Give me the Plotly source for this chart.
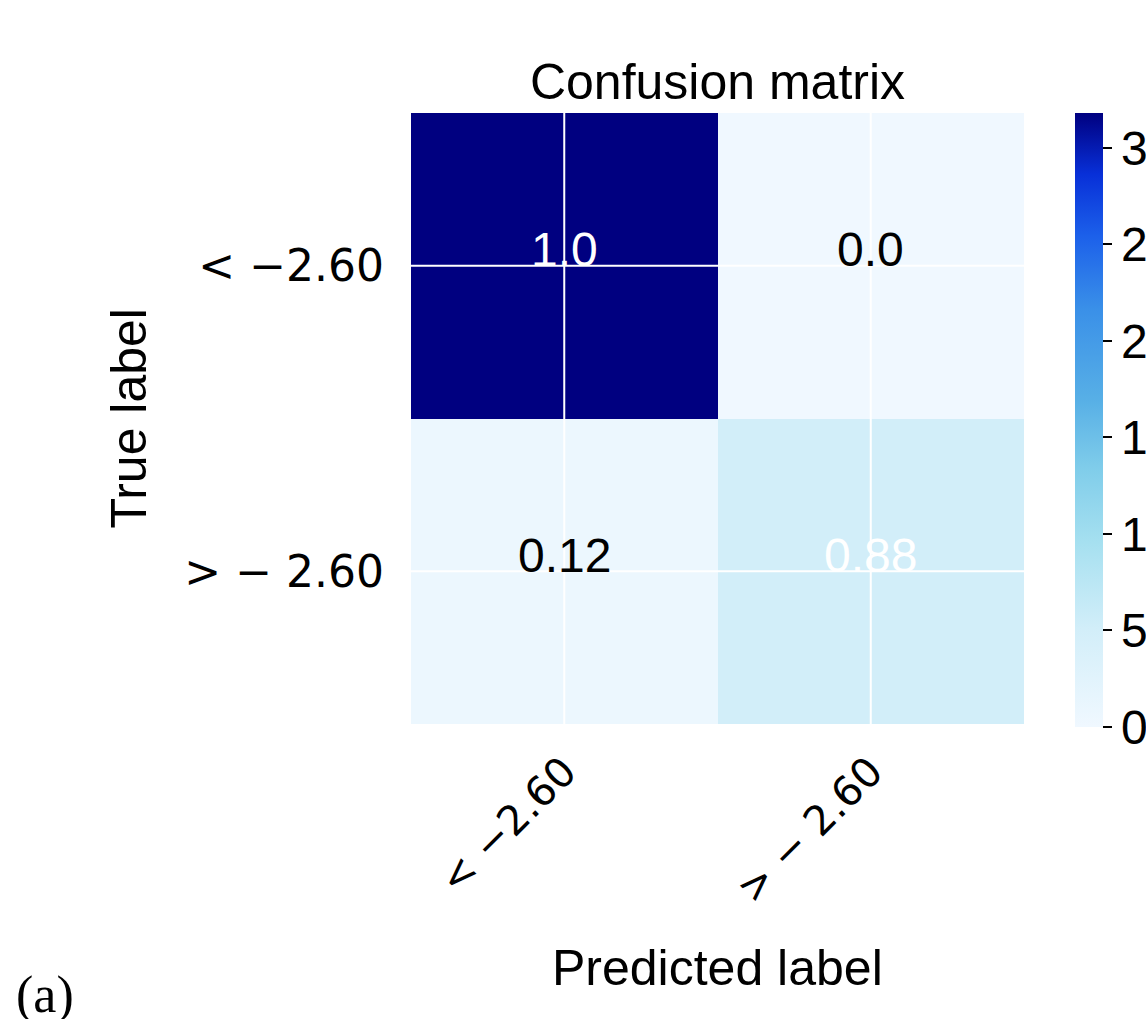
import plotly.graph_objects as go

# ---- data ----
classes = ["< −2.60", "> − 2.60"]
counts = [[318, 0],
          [7, 51]]
colorbar_ticks = [0, 50, 100, 150, 200, 250, 300]

# normalised (row-wise) values shown in the cells
norm = [[c / sum(row) for c in row] for row in counts]

W, H = 1146, 1019
L, R, T, B = 411, 1024, 113, 724  # plot area in pixels
pw, ph = R - L, B - T


def px_x(x):
    return (x - L) / pw


def px_y(y):
    return (B - y) / ph


blues = [
    [0.00, "#f0f8ff"],
    [0.16, "#d2eef9"],
    [0.30, "#a6e0f0"],
    [0.42, "#80cdea"],
    [0.53, "#58b0e6"],
    [0.68, "#3a90e8"],
    [0.80, "#1c60ea"],
    [0.90, "#0830d8"],
    [1.00, "#000080"],
]

fig = go.Figure()
fig.add_trace(go.Heatmap(
    z=counts, x=classes, y=classes,
    zmin=0, zmax=max(max(r) for r in counts),
    colorscale=blues,
    showscale=True,
    colorbar=dict(
        x=px_x(1075), xanchor="left", xref="paper",
        y=1.0, yanchor="top", yref="paper",
        len=614, lenmode="pixels",
        xpad=0, ypad=0,
        thickness=28, outlinewidth=0,
        tickmode="array", tickvals=colorbar_ticks,
        ticks="outside", ticklen=9, tickwidth=2, tickcolor="black",
        tickfont=dict(family="Liberation Sans", size=48, color="black"),
    ),
    hoverinfo="skip",
))

annotations = []
thresh = max(max(r) for r in norm) / 2
for i, true_lab in enumerate(classes):
    for j, pred_lab in enumerate(classes):
        v = norm[i][j]
        annotations.append(dict(
            x=pred_lab, y=true_lab, xref="x", yref="y",
            text=str(round(v, 2)), showarrow=False,
            yanchor="middle", yshift=16,
            font=dict(family="Liberation Sans", size=48,
                      color="white" if v > thresh else "black"),
        ))

# axis titles and panel label
annotations.append(dict(text="Predicted label", x=0.5, y=px_y(968), xref="paper", yref="paper",
                        showarrow=False, xanchor="center", yanchor="middle",
                        font=dict(family="Liberation Sans", size=50, color="black")))
annotations.append(dict(text="True label", x=px_x(128), y=0.5, xref="paper", yref="paper",
                        showarrow=False, xanchor="center", yanchor="middle", textangle=-90,
                        font=dict(family="Liberation Sans", size=50, color="black")))
annotations.append(dict(text="(a)", x=px_x(45), y=px_y(995), xref="paper", yref="paper",
                        showarrow=False, xanchor="center", yanchor="middle",
                        font=dict(family="Liberation Serif", size=52, color="black")))

# white grid lines through the cell centres (matplotlib style)
shapes = []
for c in classes:
    shapes.append(dict(type="line", xref="x", yref="paper", x0=c, x1=c, y0=0, y1=1,
                       line=dict(color="white", width=2)))
    shapes.append(dict(type="line", xref="paper", yref="y", x0=0, x1=1, y0=c, y1=c,
                       line=dict(color="white", width=2)))

fig.update_layout(
    width=W, height=H,
    margin=dict(l=L, r=W - R, t=T, b=H - B, pad=0, autoexpand=False),
    paper_bgcolor="white", plot_bgcolor="white",
    title=dict(text="Confusion matrix", x=0.5, xref="paper", xanchor="center",
               y=1, yref="paper", yanchor="bottom", pad=dict(b=14),
               font=dict(family="Liberation Sans", size=50, color="black")),
    xaxis=dict(type="category", showgrid=False, zeroline=False, showline=False,
               tickangle=-45, ticks="", ticklabelstandoff=14,
               tickfont=dict(family="DejaVu Sans", size=41, color="black"),
               automargin=False),
    yaxis=dict(type="category", autorange="reversed", showgrid=False, zeroline=False,
               showline=False, ticks="", ticklabelstandoff=26,
               tickfont=dict(family="DejaVu Sans", size=44, color="black"),
               automargin=False),
    annotations=annotations,
    shapes=shapes,
)

fig.write_html("out.html")
